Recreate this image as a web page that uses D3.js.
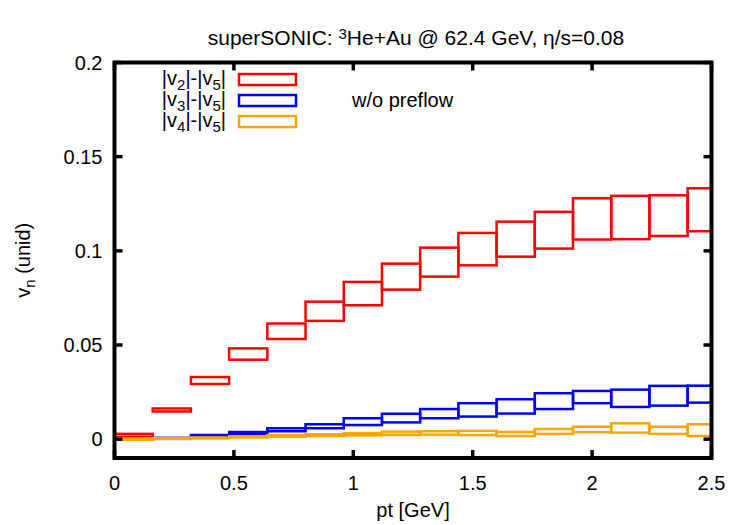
<!DOCTYPE html>
<html>
<head>
<meta charset="utf-8">
<script src="https://cdn.jsdelivr.net/npm/d3@7"></script>
<style>
  body { margin: 0; background: #fff; }
  text { font-family: "Liberation Sans", Arial, sans-serif; fill: #000; }
</style>
</head>
<body>
<div id="chart"></div>
<script>
// bin edges in pt (GeV)
var binLeft  = [0.00, 0.16, 0.32, 0.48, 0.64, 0.80, 0.96, 1.12, 1.28, 1.44, 1.60, 1.76, 1.92, 2.08, 2.24, 2.40];
var binRight = [0.16, 0.32, 0.48, 0.64, 0.80, 0.96, 1.12, 1.28, 1.44, 1.60, 1.76, 1.92, 2.08, 2.24, 2.40, 2.56];

// |v2|-|v5| band
var v2_lo = [0.0012, 0.0147, 0.0293, 0.0422, 0.0532, 0.0628, 0.0711, 0.0794, 0.0863, 0.0923, 0.0969, 0.1012, 0.1060, 0.1062, 0.1079, 0.1104];
var v2_hi = [0.0028, 0.0163, 0.0330, 0.0482, 0.0614, 0.0730, 0.0835, 0.0932, 0.1017, 0.1095, 0.1155, 0.1207, 0.1279, 0.1292, 0.1295, 0.1332];
// |v3|-|v5| band
var v3_lo = [0.0000, 0.0003, 0.0014, 0.0028, 0.0042, 0.0058, 0.0075, 0.0089, 0.0111, 0.0120, 0.0136, 0.0160, 0.0191, 0.0171, 0.0178, 0.0194];
var v3_hi = [0.0004, 0.0007, 0.0022, 0.0038, 0.0058, 0.0079, 0.0111, 0.0135, 0.0160, 0.0191, 0.0212, 0.0244, 0.0256, 0.0263, 0.0283, 0.0284];
// |v4|-|v5| band
var v4_lo = [-0.0003, 0.0001, 0.0004, 0.0009, 0.0013, 0.0017, 0.0020, 0.0022, 0.0024, 0.0022, 0.0017, 0.0028, 0.0037, 0.0035, 0.0028, 0.0017];
var v4_hi = [0.0005, 0.0006, 0.0009, 0.0015, 0.0021, 0.0026, 0.0032, 0.0040, 0.0042, 0.0044, 0.0038, 0.0054, 0.0066, 0.0084, 0.0066, 0.0079];

var xTicks = [0, 0.5, 1, 1.5, 2, 2.5];
var yTicks = [0, 0.05, 0.1, 0.15, 0.2];

var seriesNames = ['2', '3', '4'];
var seriesColors = ['#ff0000', '#0000ff', '#ffa500'];

var W = 750, H = 525;
var margin = {top: 62.5, right: 38.5, bottom: 67, left: 114.5};
var width = W - margin.left - margin.right;
var height = H - margin.top - margin.bottom;

var svg = d3.select('#chart').append('svg')
    .attr('width', W)
    .attr('height', H);

var g = svg.append('g')
    .attr('transform', 'translate(' + margin.left + ',' + margin.top + ')');

var x = d3.scaleLinear().domain([0, 2.5]).range([0, width]);
var y = d3.scaleLinear().domain([-0.01, 0.2]).range([height, 0]);

g.append('clipPath').attr('id', 'clip')
  .append('rect').attr('width', width).attr('height', height);

// boxes
function add_boxes(lo, hi, color){
    var rows = binLeft.map(function(d, i){ return {x0: d, x1: binRight[i], lo: lo[i], hi: hi[i]}; });
    g.append('g').attr('clip-path', 'url(#clip)')
      .selectAll('rect').data(rows).enter().append('rect')
        .attr('x', function(d){ return x(d.x0); })
        .attr('width', function(d){ return x(d.x1) - x(d.x0); })
        .attr('y', function(d){ return y(d.hi); })
        .attr('height', function(d){ return Math.max(0.5, y(d.lo) - y(d.hi)); })
        .style('fill', 'none')
        .style('stroke', color)
        .style('stroke-width', 2.5);
}
add_boxes(v2_lo, v2_hi, seriesColors[0]);
add_boxes(v3_lo, v3_hi, seriesColors[1]);
add_boxes(v4_lo, v4_hi, seriesColors[2]);

// ticks (inside, mirrored)
var tl = 8;
xTicks.forEach(function(t){
    g.append('line').attr('x1', x(t)).attr('x2', x(t)).attr('y1', height).attr('y2', height - tl)
      .style('stroke', '#000').style('stroke-width', 3.5);
    g.append('line').attr('x1', x(t)).attr('x2', x(t)).attr('y1', 0).attr('y2', tl)
      .style('stroke', '#000').style('stroke-width', 3.5);
});
yTicks.forEach(function(t){
    g.append('line').attr('x1', 0).attr('x2', tl).attr('y1', y(t)).attr('y2', y(t))
      .style('stroke', '#000').style('stroke-width', 3.5);
    g.append('line').attr('x1', width).attr('x2', width - tl).attr('y1', y(t)).attr('y2', y(t))
      .style('stroke', '#000').style('stroke-width', 3.5);
});

// frame
g.append('rect')
    .attr('width', width).attr('height', height)
    .style('fill', 'none').style('stroke', '#000').style('stroke-width', 4);

// tick labels
g.selectAll('.xl').data(xTicks).enter().append('text')
    .attr('class', 'xl')
    .attr('x', function(d){ return x(d); })
    .attr('y', height + 32)
    .attr('text-anchor', 'middle')
    .style('font-size', '20px')
    .text(function(d){ return d3.format('')(d); });

g.selectAll('.yl').data(yTicks).enter().append('text')
    .attr('class', 'yl')
    .attr('x', -12)
    .attr('y', function(d){ return y(d); })
    .attr('dy', '0.35em')
    .attr('text-anchor', 'end')
    .style('font-size', '20px')
    .text(function(d){ return d3.format('')(d); });

// axis titles
g.append('text')
    .attr('x', width / 2)
    .attr('y', height + 59)
    .attr('text-anchor', 'middle')
    .style('font-size', '20px')
    .text('pt [GeV]');

var yt = svg.append('text')
    .attr('transform', 'translate(30,' + (margin.top + height / 2) + ') rotate(-90)')
    .attr('text-anchor', 'middle')
    .style('font-size', '20px');
yt.append('tspan').text('v');
yt.append('tspan').attr('baseline-shift', '-30%').style('font-size', '15px').text('n');
yt.append('tspan').text(' (unid)');

// title
var title = svg.append('text')
    .attr('x', 416)
    .attr('y', 45)
    .attr('text-anchor', 'middle')
    .style('font-size', '21px');
title.append('tspan').text('superSONIC: ');
title.append('tspan').attr('baseline-shift', '40%').style('font-size', '15px').text('3');
title.append('tspan').text('He+Au @ 62.4 GeV, \u03b7/s=0.08');

// legend
var legend = svg.append('g').attr('class', 'legend');
seriesNames.forEach(function(n, i){
    var cy = 79 + i * 21;
    var t = legend.append('text')
        .attr('x', 226)
        .attr('y', cy + 6)
        .attr('text-anchor', 'end')
        .style('font-size', '20px');
    t.append('tspan').text('|v');
    t.append('tspan').attr('baseline-shift', '-30%').style('font-size', '15px').text(n);
    t.append('tspan').text('|-|v');
    t.append('tspan').attr('baseline-shift', '-30%').style('font-size', '15px').text('5');
    t.append('tspan').text('|');
    legend.append('rect')
        .attr('x', 239).attr('y', cy - 5)
        .attr('width', 57).attr('height', 11)
        .style('fill', 'none')
        .style('stroke', seriesColors[i])
        .style('stroke-width', 2.5);
});

svg.append('text')
    .attr('x', 352)
    .attr('y', 107)
    .style('font-size', '20px')
    .text('w/o preflow');
</script>
</body>
</html>
